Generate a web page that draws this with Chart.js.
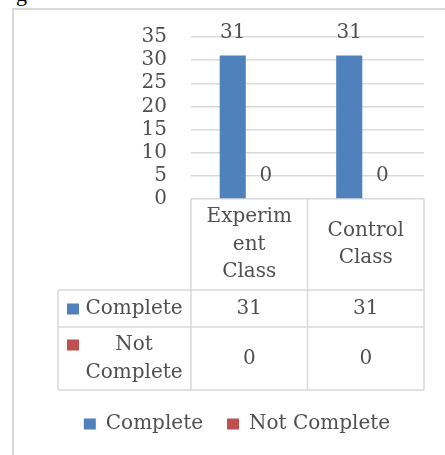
<!DOCTYPE html>
<html>
<head>
<meta charset="utf-8">
<script src="https://cdn.jsdelivr.net/npm/chart.js@4/dist/chart.umd.min.js"></script>
<style>
  html, body { margin: 0; padding: 0; background: #fff; overflow: hidden; }
  #wrap { position: relative; width: 445px; height: 455px; overflow: hidden; }
  #frame { position: absolute; left: 12px; top: 8px; width: 460px; height: 470px;
           border-left: 2px solid #d9d9d9; border-top: 2px solid #d9d9d9; }
  #cap { position: absolute; left: 16px; top: -19px; font: 22px "Liberation Serif"; color: #000; }
  canvas { position: absolute; left: 0; top: 0; }
</style>
</head>
<body>
<div id="wrap">
  <div id="cap">g</div>
  <div id="frame"></div>
  <canvas id="chart" width="445" height="455"></canvas>
</div>
<script>
// chart data
const categories = [['Experim', 'ent', 'Class'], ['Control', 'Class']];
const seriesNames = ['Complete', 'Not Complete'];
const complete = [31, 31];
const notComplete = [0, 0];
const yTicks = [0, 5, 10, 15, 20, 25, 30, 35];
const rowLabels = [['Complete'], ['Not', 'Complete']];
const seriesColors = ['#4F81BD', '#C0504D'];

const FONT = '"DejaVu Serif", serif';
const TEXT = '#505050';
const LINE = '#d9d9d9';

// bar value labels (like Excel data labels, above the bar)
const valueLabels = {
  id: 'valueLabels',
  afterDatasetsDraw(chart) {
    const ctx = chart.ctx;
    ctx.save();
    ctx.font = '20px ' + FONT;
    ctx.fillStyle = TEXT;
    ctx.textAlign = 'center';
    ctx.textBaseline = 'middle';
    chart.data.datasets.forEach((ds, i) => {
      chart.getDatasetMeta(i).data.forEach((bar, j) => {
        ctx.fillText(String(ds.data[j]), bar.x, bar.y - 23);
      });
    });
    ctx.restore();
  }
};

// data table under the plot, drawn on the x axis area
const dataTable = {
  id: 'dataTable',
  afterDraw(chart) {
    const {ctx, chartArea} = chart;
    const x = chart.scales.x;
    const top = chartArea.bottom;
    const bottom = x.bottom;
    const headH = 91, row1H = 37;
    const tableLeft = 58;
    const rowTops = [top + headH, top + headH + row1H];
    const rowBottoms = [top + headH + row1H, bottom];
    const colEdges = [x.left, (x.getPixelForValue(0) + x.getPixelForValue(1)) / 2, x.right];

    ctx.save();
    ctx.strokeStyle = LINE;
    ctx.lineWidth = 1.5;
    ctx.beginPath();
    // vertical lines of the data columns
    colEdges.forEach(cx => { ctx.moveTo(cx, top); ctx.lineTo(cx, bottom); });
    // left edge of the series column
    ctx.moveTo(tableLeft, rowTops[0]); ctx.lineTo(tableLeft, bottom);
    // horizontal lines
    [rowTops[0], rowTops[1], bottom].forEach(yy => { ctx.moveTo(tableLeft, yy); ctx.lineTo(x.right, yy); });
    ctx.stroke();

    ctx.font = '20px ' + FONT;
    ctx.fillStyle = TEXT;
    ctx.textAlign = 'center';
    ctx.textBaseline = 'middle';
    const lh = 28;
    chart.data.datasets.forEach((ds, r) => {
      const mid = (rowTops[r] + rowBottoms[r]) / 2;
      const lines = rowLabels[r];
      const first = mid - (lines.length - 1) * lh / 2;
      // legend key square
      ctx.fillStyle = ds.backgroundColor;
      ctx.fillRect(67, first - 5, 12, 11);
      ctx.fillStyle = TEXT;
      lines.forEach((t, k) => ctx.fillText(t, 134, first + k * lh));
      ds.data.forEach((v, c) => ctx.fillText(String(v), x.getPixelForValue(c), mid));
    });
    ctx.restore();
  }
};

new Chart(document.getElementById('chart'), {
  type: 'bar',
  data: {
    labels: categories,
    datasets: [
      { label: seriesNames[0], data: complete, backgroundColor: seriesColors[0], borderWidth: 0 },
      { label: seriesNames[1], data: notComplete, backgroundColor: seriesColors[1], borderWidth: 0 }
    ]
  },
  options: {
    responsive: false,
    animation: false,
    datasets: { bar: { categoryPercentage: 0.567, barPercentage: 0.79 } },
    layout: { padding: { left: 50, right: 21, top: 37, bottom: 11 } },
    plugins: {
      tooltip: { enabled: false },
      legend: {
        position: 'bottom',
        labels: {
          boxWidth: 12, boxHeight: 11, padding: 24,
          color: TEXT, font: { family: FONT, size: 20 }
        }
      }
    },
    scales: {
      y: {
        min: 0, max: 35,
        afterFit(s) { s.width = 141; },
        afterBuildTicks(s) { s.ticks = yTicks.map(v => ({ value: v })); },
        border: { display: false },
        grid: { color: LINE, lineWidth: 1.5, drawTicks: false },
        ticks: {
          autoSkip: false, padding: 24, color: TEXT,
          font: { family: FONT, size: 20, lineHeight: 1 }
        }
      },
      x: {
        afterFit(s) { s.height = 191; },
        border: { display: false },
        grid: { display: false, drawTicks: false },
        ticks: {
          autoSkip: false, maxRotation: 0, minRotation: 0, padding: 18,
          crossAlign: 'center', color: TEXT,
          font: { family: FONT, size: 20, lineHeight: 1.375 }
        }
      }
    }
  },
  plugins: [valueLabels, dataTable]
});
</script>
</body>
</html>
